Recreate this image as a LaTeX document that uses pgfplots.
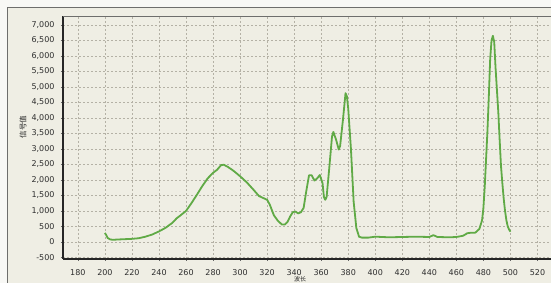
\documentclass[border=0pt]{standalone}
\usepackage{pgfplots}
\pgfplotsset{compat=1.18}
\usetikzlibrary{backgrounds,calc}
\usepackage{fontspec}
\setmainfont{DejaVu Sans}
\newfontfamily\cjk{Noto Sans CJK SC}
\definecolor{bgbeige}{HTML}{EFEEE4}
\definecolor{outerwhite}{HTML}{F8F8F5}
\definecolor{bordergray}{HTML}{6E6E6C}
\definecolor{gridgray}{HTML}{B4B1A5}
\definecolor{curvegreen}{RGB}{96,170,70}
\begin{document}
\begin{tikzpicture}
\begin{axis}[
  scale only axis, width=488pt, height=243pt,
  xmin=169, xmax=530, ymin=-550, ymax=7290,
  axis x line*=bottom, axis y line*=left,
  axis line style={black!85, line width=1.6pt},
  xtick={180,200,...,520},
  ytick={-500,0,500,...,7000},
  tick align=outside, major tick length=2pt,
  tick style={black!60, line width=0.4pt},
  grid=major,
  major grid style={gridgray, dash pattern=on 2pt off 2pt, line width=0.5pt},
  /pgf/number format/assume math mode=true,
  /pgf/number format/1000 sep={,},
  ticklabel style={font=\fontsize{8}{9}\selectfont, text=black!82},
  yticklabel style={xshift=-3pt},
  xticklabel style={yshift=-5pt},
  xlabel={\cjk 波长},
  xlabel style={at={(axis description cs:0.486,0)}, anchor=north, inner sep=0pt, yshift=-17.5pt, font=\fontsize{6}{6}\selectfont, text=black!85},
  ylabel={\cjk 信号值},
  ylabel style={at={(axis description cs:-0.082,0.543)}, anchor=center, rotate=0, font=\fontsize{7.5}{8}\selectfont, text=black!85},
  clip=true,
]
\coordinate (SW) at (rel axis cs:0,0);
\coordinate (NW) at (rel axis cs:0,1);
\addplot[curvegreen, line width=1.8pt, line join=round] coordinates {
(200,290) (201,220) (202,130) (204,80) (206,70) (210,80) (215,90) (220,100)
(225,120) (230,170) (235,240) (240,340) (245,460) (250,620) (253,760) (256,860)
(260,1000) (264,1250) (268,1520) (272,1800) (276,2050) (280,2230) (283,2330)
(286,2480) (288,2490) (291,2420) (295,2300) (300,2120) (305,1920) (310,1680)
(314,1480) (318,1400) (320,1360) (322,1200) (325,860) (328,680) (331,560)
(333,560) (335,640) (337,820) (339,960) (341,980) (343,920) (345,960)
(347,1100) (349,1650) (351,2150) (353,2150) (355,1980) (357,2050) (359,2160)
(361,1900) (362,1450) (363,1360) (364,1450) (366,2400) (368,3400) (369,3550)
(371,3300) (373,2980) (374,3100) (376,3900) (378,4800) (379,4700) (380,4300)
(382,3000) (384,1300) (386,450) (388,170) (390,140) (395,140) (400,170)
(405,160) (410,150) (420,160) (430,170) (440,160) (443,220) (446,160)
(455,150) (460,160) (465,200) (468,280) (471,300) (474,300) (477,420)
(479,700) (480,1100) (481,1800) (482,2700) (483,3600) (484,4700) (485,5900)
(486,6500) (487,6650) (488,6450) (489,5600) (490,4900) (491,4200) (492,3300)
(493,2450) (494,1900) (495,1400) (496,1000) (497,700) (498,500) (499,400)
(500,330)
};
\end{axis}
\draw[bordergray, line width=0.7pt] (NW) -- ($(NW)+(488pt,0)$);
\begin{scope}[on background layer]
\fill[outerwhite] ($(SW)+(-63pt,-24pt)$) rectangle ++(551pt,283pt);
\fill[bgbeige] ($(SW)+(-56pt,-24pt)$) rectangle ++(544pt,276pt);
\draw[bordergray, line width=0.8pt] ($(SW)+(-56pt,-24pt)$) -- ++(0,276pt) -- ++(544pt,0);
\end{scope}
\pgfresetboundingbox
\path[use as bounding box] ($(SW)+(-63pt,-24pt)$) rectangle ++(551pt,283pt);
\end{tikzpicture}
\end{document}
